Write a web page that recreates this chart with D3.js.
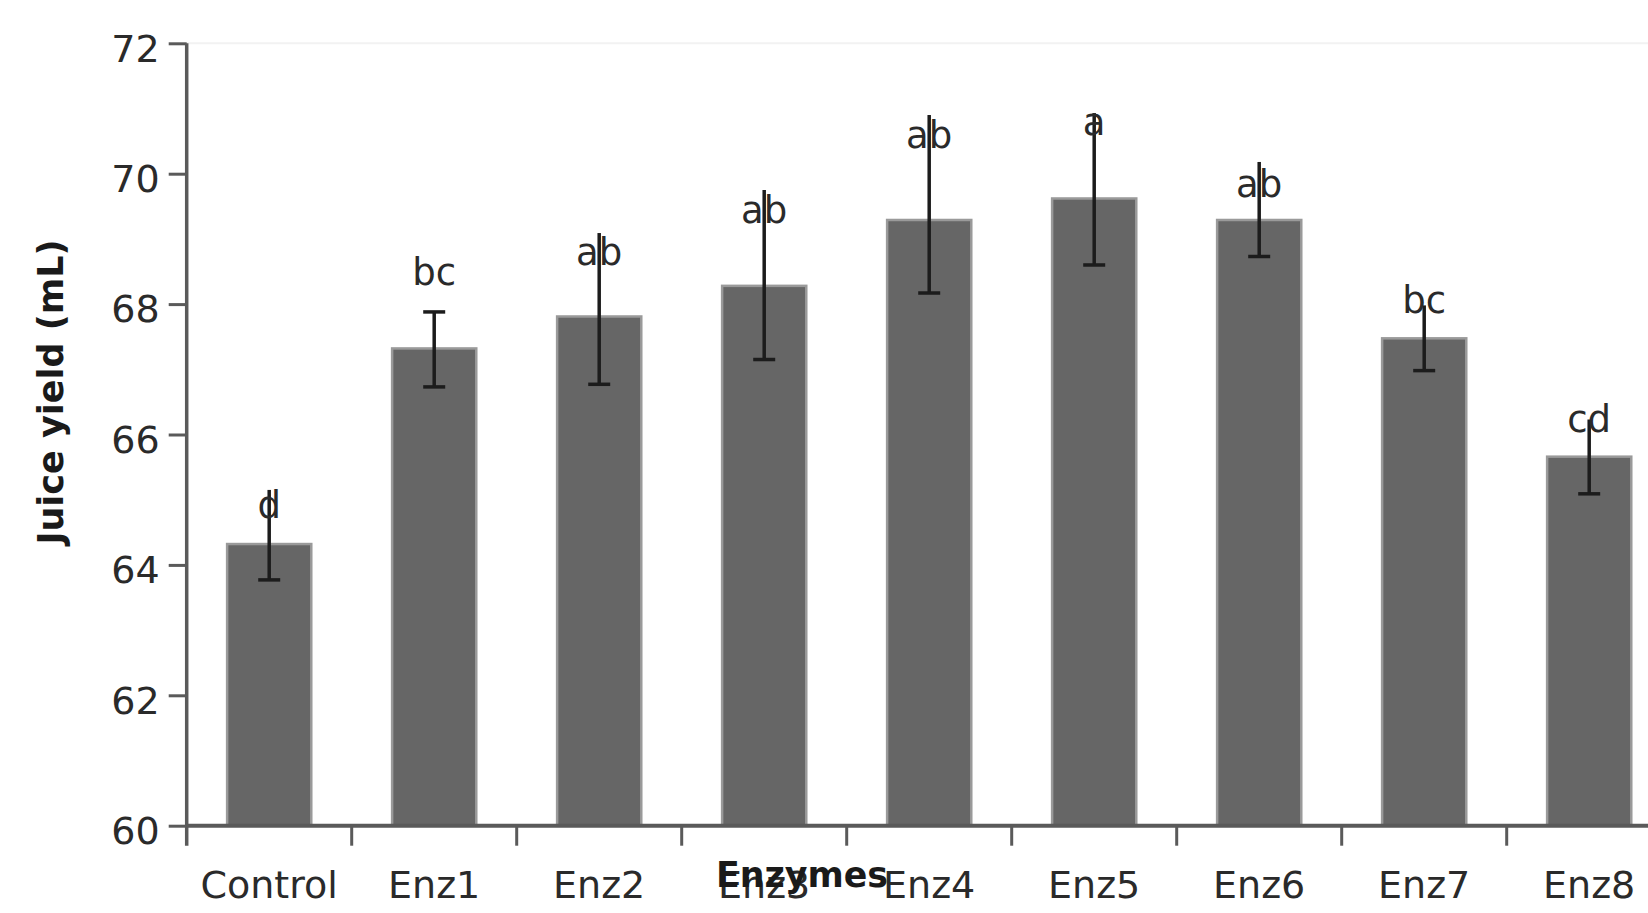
<!DOCTYPE html>
<html>
<head>
<meta charset="utf-8">
<script src="https://cdn.jsdelivr.net/npm/d3@7"></script>
<style>
  html, body { margin: 0; padding: 0; background: #fff; }
  svg { display: block; }
</style>
</head>
<body>
<svg id="chart" width="1648" height="913"></svg>
<script>
// ---- data ----
const categories = ["Control", "Enz1", "Enz2", "Enz3", "Enz4", "Enz5", "Enz6", "Enz7", "Enz8"];
const means      = [64.32, 67.32, 67.81, 68.28, 69.29, 69.62, 69.29, 67.475, 65.66];
const errLow     = [63.77, 66.73, 66.77, 67.15, 68.17, 68.60, 68.73, 66.98, 65.09];
const errHigh    = [65.15, 67.88, 69.09, 69.75, 70.90, 70.93, 70.18, 67.98, 66.23];
const letters    = ["d", "bc", "ab", "ab", "ab", "a", "ab", "bc", "cd"];
const letterAt   = [64.72, 68.29, 68.60, 69.24, 70.39, 70.59, 69.65, 67.86, 66.04];
const yTicks     = [60, 62, 64, 66, 68, 70, 72];
const yDomain    = [60, 72];
const xTitle = "Enzymes";
const yTitle = "Juice yield (mL)";

// ---- layout ----
const svg = d3.select("#chart");
const mLeft = 186.7, mTop = 43.3, mBottom = 825.7;
const step = 165;
const mRight = mLeft + step * categories.length;

const x = d3.scaleBand().domain(categories).range([mLeft, mRight])
  .paddingInner(0.49).paddingOuter(0.245);
const y = d3.scaleLinear().domain(yDomain).range([mBottom, mTop]);

const FONT = "'DejaVu Sans', sans-serif";
const axisColor = "#5a5a5a";

// faint top border
svg.append("line").attr("x1", mLeft).attr("x2", 1648).attr("y1", y(72)).attr("y2", y(72))
  .attr("stroke", "#f2f2f2").attr("stroke-width", 2);

// bars
svg.append("g").selectAll("rect").data(categories).join("rect")
  .attr("x", d => x(d))
  .attr("width", x.bandwidth())
  .attr("y", (d, i) => y(means[i]))
  .attr("height", (d, i) => y(yDomain[0]) - y(means[i]))
  .attr("fill", "#666666")
  .attr("stroke", "#9a9a9a")
  .attr("stroke-width", 2.5);

// error bars
const eb = svg.append("g").attr("stroke", "#1c1c1c").attr("stroke-width", 3.5);
categories.forEach((c, i) => {
  const cx = x(c) + x.bandwidth() / 2;
  eb.append("line").attr("x1", cx).attr("x2", cx).attr("y1", y(errLow[i])).attr("y2", y(errHigh[i]));
  eb.append("line").attr("x1", cx - 11).attr("x2", cx + 11).attr("y1", y(errLow[i])).attr("y2", y(errLow[i]));
  // upper cap only when it is clear of the letter label
  if (letterAt[i] > errHigh[i] + 0.2) {
    eb.append("line").attr("x1", cx - 11).attr("x2", cx + 11).attr("y1", y(errHigh[i])).attr("y2", y(errHigh[i]));
  }
});

// letters
svg.append("g").selectAll("text").data(categories).join("text")
  .attr("x", d => x(d) + x.bandwidth() / 2)
  .attr("y", (d, i) => y(letterAt[i]))
  .attr("text-anchor", "middle")
  .attr("font-family", FONT)
  .attr("font-size", 37)
  .attr("fill", "#2a2a2a")
  .text((d, i) => letters[i]);

// y axis
const yAxis = d3.axisLeft(y).tickValues(yTicks).tickSize(18).tickPadding(9).tickFormat(d3.format("d"));
const gy = svg.append("g").attr("transform", `translate(${mLeft},0)`).call(yAxis);
gy.select(".domain").remove();
gy.selectAll(".tick line").attr("stroke", axisColor).attr("stroke-width", 3);
gy.selectAll(".tick text").attr("font-family", FONT).attr("font-size", 38)
  .attr("fill", "#2a2a2a").attr("dy", "0.47em");

// x axis lines
svg.append("line").attr("x1", mLeft).attr("x2", mLeft).attr("y1", y(72)).attr("y2", mBottom + 20)
  .attr("stroke", axisColor).attr("stroke-width", 3.5);
svg.append("line").attr("x1", mLeft).attr("x2", mRight).attr("y1", mBottom).attr("y2", mBottom)
  .attr("stroke", axisColor).attr("stroke-width", 4);
const boundaries = categories.slice(1).map(c => x(c) - (x.step() - x.bandwidth()) / 2);
svg.append("g").selectAll("line").data(boundaries).join("line")
  .attr("x1", d => d).attr("x2", d => d).attr("y1", mBottom).attr("y2", mBottom + 20)
  .attr("stroke", axisColor).attr("stroke-width", 3);

// x labels
svg.append("g").selectAll("text").data(categories).join("text")
  .attr("x", d => x(d) + x.bandwidth() / 2)
  .attr("y", mBottom + 72)
  .attr("text-anchor", "middle")
  .attr("font-family", FONT)
  .attr("font-size", 38)
  .attr("fill", "#2a2a2a")
  .text(d => d);

// axis titles
svg.append("text")
  .attr("x", 802).attr("y", mBottom + 61)
  .attr("text-anchor", "middle")
  .attr("font-family", FONT).attr("font-weight", "bold").attr("font-size", 35)
  .attr("fill", "#1a1a1a")
  .attr("textLength", 172).attr("lengthAdjust", "spacingAndGlyphs")
  .text(xTitle);

svg.append("text")
  .attr("transform", `translate(63,392) rotate(-90)`)
  .attr("text-anchor", "middle")
  .attr("font-family", FONT).attr("font-weight", "bold").attr("font-size", 35)
  .attr("fill", "#1a1a1a")
  .text(yTitle);
</script>
</body>
</html>
